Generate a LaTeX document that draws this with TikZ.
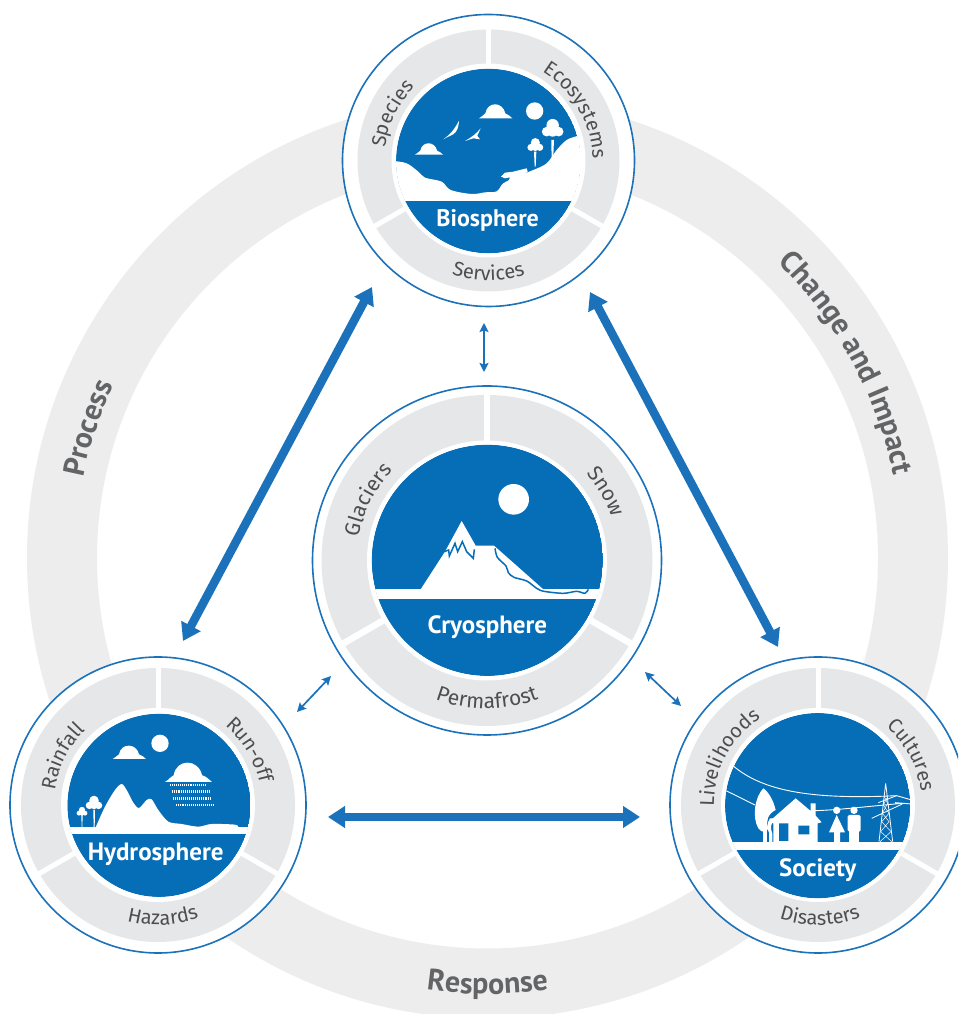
\documentclass[tikz,border=0pt]{standalone}
\usepackage{fontspec}
\setmainfont{PT Sans}
\newfontfamily\labelf{Fira Sans}
\usetikzlibrary{arrows.meta,decorations.text,calc}
\definecolor{discblue}{HTML}{066DB7}
\definecolor{arrowblue}{HTML}{1B72BA}
\definecolor{ringgray}{HTML}{EDEDEE}
\definecolor{seggray}{HTML}{E6E7E8}
\definecolor{txtgray}{HTML}{4D4E50}
\definecolor{bandtxt}{HTML}{636466}
\tikzset{
  unitcircle/.style={circle,draw=arrowblue,fill=white,line width=1.6pt,inner sep=0pt,minimum size=#1},
  disctitle/.style={text=white,font=\bfseries\fontsize{#1}{#1}\selectfont,inner sep=0pt},
  bigarrow/.style={draw=arrowblue,line width=8.5pt,{Triangle[length=17pt,width=21pt]}-{Triangle[length=17pt,width=21pt]}},
  smallarrow/.style={draw=arrowblue,line width=1.7pt,{Stealth[length=9pt,width=9pt,inset=1.5pt]}-{Stealth[length=9pt,width=9pt,inset=1.5pt]}}
}
\newcommand\seggedring[5]{% cx cy Rgray Rwhite gap
  \fill[seggray] (#1,#2) circle[radius=#3];
  \foreach \a in {90,210,330}{\draw[white,line width=#5pt] (#1,#2) -- ++(\a:#3+2);}
  \fill[white] (#1,#2) circle[radius=#4];
}
\newcommand\toplabel[6]{% cx cy radius midangle size text
  \path[decorate,decoration={text along path,text align=center,text color=txtgray,
    text={|\labelf\fontsize{#5}{#5}\selectfont|#6}}] (#1,#2) ++(#4+70:#3) arc[start angle=#4+70,end angle=#4-70,radius=#3];
}
\newcommand\botlabel[6]{%
  \path[decorate,decoration={text along path,text align=center,text color=txtgray,
    text={|\labelf\fontsize{#5}{#5}\selectfont|#6}}] (#1,#2) ++(#4-50:#3) arc[start angle=#4-50,end angle=#4+50,radius=#3];
}
\newcommand\cloudshape[4]{%
  \fill[white,shift={(#1,#2)},xscale=#3,yscale=-#4] (-1,0) .. controls (-.88,.04) and (-.8,.22) .. (-.62,.35) .. controls (-.5,1.22) and (.42,1.22) .. (.58,.35) .. controls (.75,.3) and (.88,.12) .. (1,0) -- cycle;
}
\newcommand\crown[3]{% x y r (y down)
  \fill[white] (#1,#2-.55*#3) circle[radius=.62*#3] (#1-.6*#3,#2+.1*#3) circle[radius=.48*#3] (#1+.6*#3,#2+.1*#3) circle[radius=.48*#3] (#1,#2) circle[radius=.6*#3];
}
\begin{document}
\begin{tikzpicture}[x=1pt,y=1pt]
\useasboundingbox (0,0) rectangle (958,1014);
\clip (0,0) rectangle (958,1014);
\fill[white] (0,0) rectangle (958,1014);
% big band
\fill[ringgray,even odd rule] (487.5,456) circle[radius=460.5] (487.5,456) circle[radius=390.5];
\path[decorate,decoration={text along path,text align=center,text color=bandtxt,
  text={|\bfseries\fontsize{30}{30}\selectfont|Process}}] (487.5,456) ++(232:412) arc[start angle=232,end angle=92,radius=412];
\path[decorate,decoration={text along path,text align=center,text color=bandtxt,
  text={|\bfseries\fontsize{30}{30}\selectfont|Change and Impact}}] (487.5,456) ++(90:414) arc[start angle=90,end angle=-33,radius=414];
\path[decorate,decoration={text along path,text align=center,text color=bandtxt,
  text={|\bfseries\fontsize{30}{30}\selectfont|Response}}] (487.5,456) ++(240:436) arc[start angle=240,end angle=300,radius=436];

% biosphere
\node[unitcircle=292pt] (bio) at (488.5,853.5) {};
\seggedring{488.5}{853.5}{131}{97}{5}
\toplabel{488.5}{853.5}{104}{154}{20}{Species}
\toplabel{488.5}{853.5}{104}{30}{20}{Ecosystems}
\botlabel{488.5}{853.5}{120}{270}{20}{Services}
\begin{scope}[shift={(340,1014)},xscale=1/3,yscale=-1/3]
\begin{scope}
\clip (445,483) circle[radius=277];
\fill[discblue] (445,483) circle[radius=277];
\fill[white] plot[smooth,tension=.55] coordinates {(160,483) (200,490) (235,515) (255,533) (305,545) (332,570) (395,582) (435,577) (470,574) (490,550) (530,530) (580,510) (620,490) (650,450) (680,420) (712,408) (740,400)} -- (740,603) -- (150,603) -- cycle;
\end{scope}
\draw[white,line width=1.2pt] (445,483) circle[radius=279];
\cloudshape{467}{355}{50}{42}
\cloudshape{267}{464}{42}{34}
\fill[white] (584,333) circle[radius=26];
\crown{638}{392}{30}
\crown{586}{440}{22}
\fill[white] (634,420) -- (642,420) -- (639,487) -- (635,487) -- cycle;
\fill[white] (582,455) -- (589,455) -- (587,500) -- (584,500) -- cycle;
\fill[white] (310,418) .. controls (335,400) and (345,385) .. (357,362) .. controls (356,380) and (352,395) .. (340,403) .. controls (332,407) and (320,412) .. (310,418) -- cycle;
\fill[white] (375,423) .. controls (395,412) and (410,400) .. (422,385) .. controls (418,395) and (412,405) .. (412,408) -- (420,418) -- (400,415) -- cycle;
\fill[white] (483,530) -- (495,518) -- (520,515) -- (560,505) -- (563,515) -- (550,525) -- (550,535) -- (535,530) -- (525,542) -- (505,545) -- (510,532) -- (495,535) -- cycle;
\node[disctitle=24] (biot) at (443,661) {Biosphere};
\end{scope}

% cryosphere
\node[unitcircle=349pt] (cry) at (487,453.5) {};
\seggedring{487}{453.5}{165.5}{120}{6.5}
\toplabel{487}{453.5}{130}{153}{21}{Glaciers}
\toplabel{487}{453.5}{132}{30}{21}{Snow}
\botlabel{487}{453.5}{148}{270}{21}{Permafrost}
\begin{scope}[shift={(310,634)},xscale=1/3,yscale=-1/3]
\begin{scope}
\clip (532,541) circle[radius=347];
\fill[discblue] (532,541) circle[radius=347];
\fill[white] (180,628) -- (880,628) -- (880,657) -- (180,657) -- cycle;
\fill[white] (332,628) -- (405,515) -- (455,423) -- (497,497) -- (552,497) -- (700,628) -- cycle;
\draw[discblue,line width=1.5pt,line join=miter] (403,515) -- (416,510) -- (418,528) -- (435,490) -- (443,515) -- (457,485) -- (470,515) -- (490,535) -- (493,508);
\draw[discblue,line width=1.5pt] plot[smooth,tension=.5] coordinates {(555,505) (562,532) (588,558) (595,578) (612,592) (650,603) (680,625) (702,634) (760,640) (800,634) (825,640) (835,628)};
\end{scope}
\draw[white,line width=1.2pt] (532,541) circle[radius=349];
\fill[white] (611,358) circle[radius=46];
\node[disctitle=25] (cryt) at (532,740) {Cryosphere};
\end{scope}

% hydrosphere
\node[unitcircle=296pt] (hyd) at (158,209) {};
\seggedring{158}{209}{137}{97}{5}
\toplabel{158}{209}{104}{153}{20}{Rainfall}
\toplabel{158}{209}{104}{31}{20}{Run-off}
\botlabel{158}{209}{120}{272.5}{20}{Hazards}
\begin{scope}[shift={(5,364)},xscale=1/3,yscale=-1/3]
\begin{scope}
\clip (462,466) circle[radius=275];
\fill[discblue] (462,466) circle[radius=275];
\fill[white] (180,530) rectangle (745,552);
\fill[white] plot[smooth,tension=.5] coordinates {(272,532) (300,470) (330,420) (350,402) (365,420) (385,458) (402,474) (425,450) (440,448) (460,480) (490,515) (530,522) (580,530) (620,522) (690,524) (700,532)} -- cycle;
\end{scope}
\draw[white,line width=1.2pt] (462,466) circle[radius=277];
\crown{267}{464}{23}
\crown{231}{488}{15}
\fill[white] (265,480) -- (270,480) -- (269,532) -- (266,532) -- cycle;
\fill[white] (229,495) -- (233,495) -- (232,532) -- (230,532) -- cycle;
\cloudshape{373}{327}{50}{40}
\fill[white] (465,280) circle[radius=26];
\cloudshape{550}{396}{71}{58}
\foreach \xa/\xb/\ya in {495/606/405,500/612/425,505/618/445,512/624/465}{
  \draw[white,line width=2.4pt,dash pattern=on .7pt off 1.25pt] (\xa,\ya) -- (\xb,\ya);}
\node[disctitle=25] (hydt) at (452,613) {Hydrosphere};
\end{scope}

% society
\node[unitcircle=296pt] (soc) at (818,209) {};
\seggedring{818}{209}{137}{97}{5}
\toplabel{818}{209}{104}{152}{20}{Livelihoods}
\toplabel{818}{209}{104}{28}{20}{Cultures}
\botlabel{818}{209}{120}{271}{20}{Disasters}
\begin{scope}[shift={(665,364)},xscale=1/3,yscale=-1/3]
\begin{scope}
\clip (458,467) circle[radius=278];
\fill[discblue] (458,467) circle[radius=278];
\fill[white] (170,575) rectangle (745,600);
\draw[white,line width=.9pt] (205,348) .. controls (290,420) and (430,450) .. (695,437) -- (740,450);
\draw[white,line width=.9pt] (183,422) -- (270,465);
\draw[white,line width=.9pt] (450,482) .. controls (520,480) and (600,470) .. (712,460) (690,458) -- (740,462);
\fill[white] (295,415) .. controls (270,440) and (260,500) .. (280,535) .. controls (290,548) and (305,550) .. (310,535) .. controls (300,515) and (310,490) .. (332,480) .. controls (325,450) and (310,425) .. (295,415) -- cycle;
\fill[white] (294,530) rectangle (306,578);
\fill[white] (315,505) .. controls (305,520) and (305,535) .. (312,548) -- (312,578) -- (322,578) -- (322,550) .. controls (314,530) and (318,520) .. (332,505) -- cycle;
\fill[white] (312,515) -- (392,445) -- (437,483) -- (437,460) -- (452,460) -- (452,497) -- (470,517) -- (458,520) -- (458,578) -- (325,578) -- (325,520) -- cycle;
\fill[discblue] (342,520) rectangle (370,573) (400,527) rectangle (433,553);
\fill[white] (515,481) circle[radius=11] (567,481) circle[radius=11];
\fill[white] (515,495) -- (540,547) -- (525,547) -- (525,578) -- (507,578) -- (507,547) -- (492,547) -- cycle;
\fill[white,rounded corners=1.5pt] (548,495) rectangle (587,545);
\fill[white] (553,530) rectangle (582,578);
\draw[white,line width=.8pt] (662,400) -- (642,575) (662,400) -- (683,575) (620,505) -- (712,462) (640,458) -- (695,437);
\draw[white,line width=.5pt] (658,440) -- (668,460) -- (652,490) -- (672,515) -- (647,545) -- (680,575) (668,440) -- (655,465) -- (672,490) -- (650,515) -- (678,545) -- (645,575);
\end{scope}
\draw[white,line width=1.2pt] (458,467) circle[radius=280];
\node[disctitle=25] (soct) at (458,661) {Society};
\end{scope}

% connectors: arrow tips placed relative to the named units
\coordinate (t1) at ($(bio)+(-116.5,-126.5)$);
\coordinate (t2) at ($(hyd)+(25,164)$);
\coordinate (t3) at ($(bio)+(101.5,-131.5)$);
\coordinate (t4) at ($(soc)+(-40,158)$);
\coordinate (t5) at ($(hyd)+(170,-12)$);
\coordinate (t6) at ($(soc)+(-178,-12)$);
\coordinate (s1) at ($(bio)+(-4.5,-162.5)$);
\coordinate (s2) at ($(cry)+(-3,188.5)$);
\coordinate (s3) at ($(cry)+(-156,-115.5)$);
\coordinate (s4) at ($(hyd)+(139,93)$);
\coordinate (s5) at ($(cry)+(158,-111.5)$);
\coordinate (s6) at ($(soc)+(-137,99)$);
\draw[bigarrow] (t1) -- (t2);
\draw[bigarrow] (t3) -- (t4);
\draw[bigarrow] (t5) -- (t6);
\draw[smallarrow] (s1) -- (s2);
\draw[smallarrow] (s3) -- (s4);
\draw[smallarrow] (s5) -- (s6);
\end{tikzpicture}
\end{document}
